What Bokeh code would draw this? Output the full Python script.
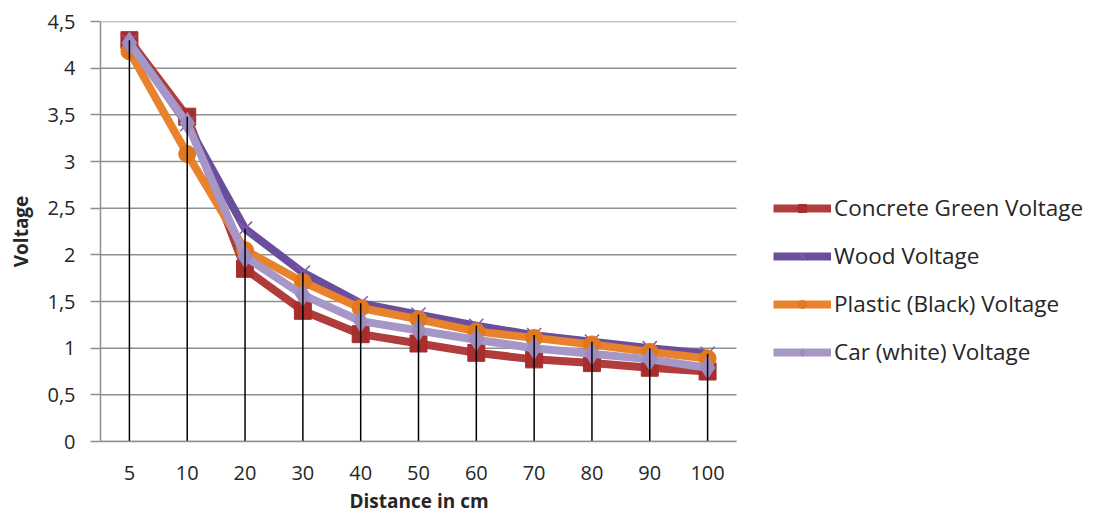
from bokeh.plotting import figure
from bokeh.models import (Range1d, FixedTicker, CustomJSTickFormatter,
                          Legend, LegendItem, ColumnDataSource, Title)
from bokeh.embed import file_html
from bokeh.resources import INLINE

distances = ["5", "10", "20", "30", "40", "50", "60", "70", "80", "90", "100"]
concrete = [4.30, 3.48, 1.85, 1.40, 1.15, 1.05, 0.95, 0.88, 0.84, 0.79, 0.75]
wood = [4.28, 3.40, 2.28, 1.81, 1.48, 1.36, 1.24, 1.14, 1.07, 1.00, 0.94]
plastic = [4.18, 3.08, 2.05, 1.71, 1.43, 1.31, 1.18, 1.11, 1.04, 0.96, 0.89]
car = [4.27, 3.41, 1.98, 1.57, 1.29, 1.19, 1.09, 1.00, 0.94, 0.88, 0.79]
y_ticks = [0, 0.5, 1, 1.5, 2, 2.5, 3, 3.5, 4, 4.5]
series_names = ["Concrete Green Voltage", "Wood Voltage", "Plastic (Black) Voltage", "Car (white) Voltage"]
x_title = "Distance in cm"
y_title = "Voltage"

FONT = "Open Sans"
TXT = "#262626"
GRID = "#8f8f8f"

W, H = 1086, 516
LEFT = 100
PLOT_W = 636            # width of the data region (categories)
n = len(distances)
idx = list(range(n))
x_end = -0.5 + n * (W - LEFT) / PLOT_W   # extra room on the right for the legend

p = figure(width=W, height=H, x_range=Range1d(-0.5, x_end), y_range=Range1d(0, 4.5),
           output_backend="svg", toolbar_location=None,
           min_border_left=LEFT, min_border_right=0, min_border_top=21, min_border_bottom=74)
p.outline_line_color = None
p.background_fill_color = "white"
p.border_fill_color = "white"
p.xgrid.grid_line_color = None
p.ygrid.grid_line_color = None

p.yaxis.ticker = FixedTicker(ticks=y_ticks)
p.yaxis.formatter = CustomJSTickFormatter(code="return tick.toString().replace('.', ',');")
p.xaxis.ticker = FixedTicker(ticks=idx)
p.xaxis.formatter = CustomJSTickFormatter(args=dict(labels=distances),
                                          code="return labels[Math.round(tick)];")
p.xaxis.bounds = (-0.5, n - 0.5)

for ax in (p.xaxis[0], p.yaxis[0]):
    ax.axis_line_color = GRID
    ax.axis_line_width = 1.5
    ax.major_label_text_font = FONT
    ax.major_label_text_font_size = "20px"
    ax.major_label_text_color = TXT
    ax.axis_label_text_font = FONT
    ax.axis_label_text_font_size = "19px"
    ax.axis_label_text_font_style = "bold"
    ax.axis_label_text_color = TXT
    ax.minor_tick_line_color = None

p.yaxis.major_tick_line_color = GRID
p.yaxis.major_tick_line_width = 1.5
p.yaxis.major_tick_out = 10
p.yaxis.major_tick_in = 0
p.yaxis.major_label_standoff = 15
p.yaxis.axis_label = y_title
p.yaxis.axis_label_standoff = 10

p.xaxis.major_tick_line_color = None
p.xaxis.major_tick_out = 0
p.xaxis.major_tick_in = 0
p.xaxis.major_label_standoff = 24

# x-axis title centred under the category region (not the whole frame)
p.add_layout(Title(text=x_title, align="left", offset=PLOT_W / 2 - 69, standoff=6,
                   text_font=FONT, text_font_size="19px", text_font_style="bold",
                   text_color=TXT), "below")

# horizontal gridlines across the category region only
p.segment(x0=[-0.5] * len(y_ticks), y0=y_ticks, x1=[n - 0.5] * len(y_ticks), y1=y_ticks,
          line_color=GRID, line_width=1.5)

src = ColumnDataSource(dict(x=idx, concrete=concrete, wood=wood, plastic=plastic, car=car,
                            top=[max(a, b, c, d) for a, b, c, d in zip(concrete, wood, plastic, car)],
                            zero=[0] * n))

items = []
l1 = p.line("x", "concrete", source=src, line_color="#B13C3C", line_width=8, line_join="round")
m1 = p.scatter("x", "concrete", source=src, marker="square", size=17, fill_color="#A82E2E", line_color="#A82E2E")
items.append(LegendItem(label=series_names[0], renderers=[l1, m1]))

l2 = p.line("x", "wood", source=src, line_color="#6A4E9C", line_width=8, line_join="round")
m2 = p.scatter("x", "wood", source=src, marker="x", size=20, line_color="#7B5DB3", line_width=1.5)
items.append(LegendItem(label=series_names[1], renderers=[l2, m2]))

l3 = p.line("x", "plastic", source=src, line_color="#E8822C", line_width=8, line_join="round")
m3 = p.scatter("x", "plastic", source=src, marker="circle", size=17, fill_color="#E07820", line_color="#E07820")
items.append(LegendItem(label=series_names[2], renderers=[l3, m3]))

l4 = p.line("x", "car", source=src, line_color="#A797C7", line_width=8, line_join="round")
m4 = p.scatter("x", "car", source=src, marker="diamond", size=22, fill_color="#9D8CC0", line_color="#9D8CC0")
items.append(LegendItem(label=series_names[3], renderers=[l4, m4]))

p.segment(x0="x", y0="zero", x1="x", y1="top", source=src, line_color="black", line_width=1.5)

legend = Legend(items=items, location=(PLOT_W + 37, 74), orientation="vertical",
                padding=0, margin=0, spacing=17, glyph_width=58, glyph_height=20,
                label_height=20, label_standoff=3,
                label_text_font=FONT, label_text_font_size="22.5px", label_text_color=TXT,
                border_line_color=None, background_fill_alpha=0)
p.add_layout(legend, "center")

open("out.html", "w").write(file_html(p, INLINE))
